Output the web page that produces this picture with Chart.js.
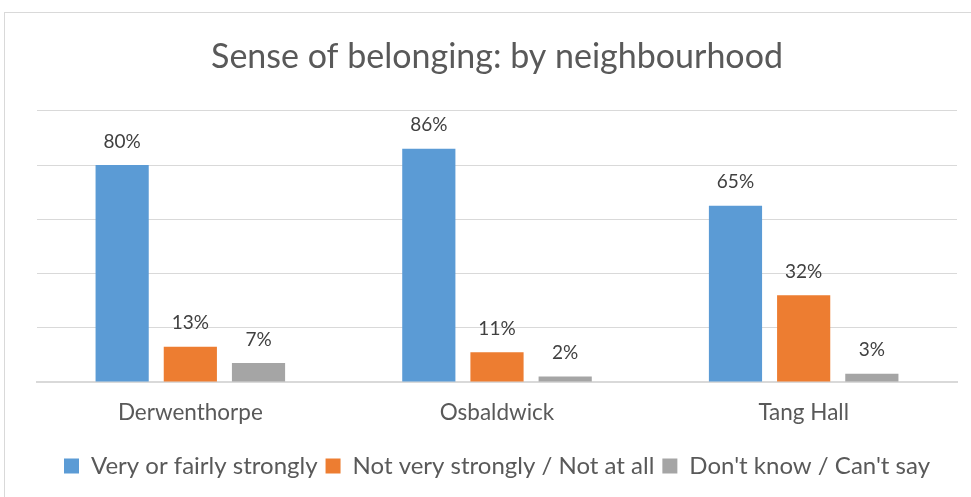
<!DOCTYPE html>
<html>
<head>
<meta charset="utf-8">
<script src="https://cdn.jsdelivr.net/npm/chart.js@4/dist/chart.umd.min.js"></script>
<style>
  html, body { margin: 0; padding: 0; background: #fff; overflow: hidden; }
  #frame { position: absolute; left: 4px; top: 12px; width: 990px; height: 520px; border: 1px solid #d9d9d9; }
  #wrap { position: absolute; left: 0; top: 0; width: 971px; height: 497px; }
</style>
</head>
<body>
<div id="frame"></div>
<div id="wrap"><canvas id="belongingChart"></canvas></div>
<script>
// Chart data
const neighbourhoods = ["Derwenthorpe", "Osbaldwick", "Tang Hall"];
const strongly = [80, 86, 65];
const notStrongly = [13, 11, 32];
const dontKnow = [7, 2, 3];

// Draw the % value above each bar
const valueLabels = {
    id: "valueLabels",
    afterDatasetsDraw(chart) {
        const ctx = chart.ctx;
        ctx.save();
        ctx.font = "19px Lato";
        ctx.fillStyle = "#404040";
        ctx.textAlign = "center";
        ctx.textBaseline = "bottom";
        chart.data.datasets.forEach((ds, i) => {
            chart.getDatasetMeta(i).data.forEach((bar, j) => {
                ctx.fillText(ds.data[j] + "%", bar.x, bar.y - 14);
            });
        });
        ctx.restore();
    },
};

const ctx = document.getElementById("belongingChart").getContext("2d");
const myChart = new Chart(ctx, {
    type: "bar",
    data: {
        labels: neighbourhoods,
        datasets: [
            { label: "Very or fairly strongly", data: strongly, backgroundColor: "#5b9bd5" },
            { label: "Not very strongly / Not at all", data: notStrongly, backgroundColor: "#ed7d31" },
            { label: "Don't know / Can't say", data: dontKnow, backgroundColor: "#a5a5a5" },
        ],
    },
    options: {
        responsive: true,
        maintainAspectRatio: false,
        animation: false,
        categoryPercentage: 0.667,
        barPercentage: 0.78,
        layout: { padding: { left: 37, right: 14, top: 14, bottom: 9 } },
        plugins: {
            title: {
                display: true,
                text: "Sense of belonging: by neighbourhood",
                color: "#595959",
                font: { family: "Lato", size: 34, weight: "normal" },
                padding: { top: 23, bottom: 33 },
            },
            legend: {
                position: "bottom",
                labels: {
                    color: "#595959",
                    font: { family: "Lato", size: 24 },
                    boxWidth: 15,
                    boxHeight: 15,
                    padding: 8,
                },
            },
            tooltip: { enabled: false },
        },
        scales: {
            x: {
                grid: { display: false },
                border: { color: "#d9d9d9", width: 2 },
                ticks: { color: "#595959", font: { family: "Lato", size: 22.5 }, padding: 9 },
                // extra room between category names and legend
                afterFit: (scale) => { scale.height += 11; },
            },
            y: {
                min: 0,
                max: 100,
                ticks: { display: false, stepSize: 20 },
                border: { display: false },
                grid: { color: "#d9d9d9", drawTicks: false },
            },
        },
    },
    plugins: [valueLabels],
});
</script>
</body>
</html>
